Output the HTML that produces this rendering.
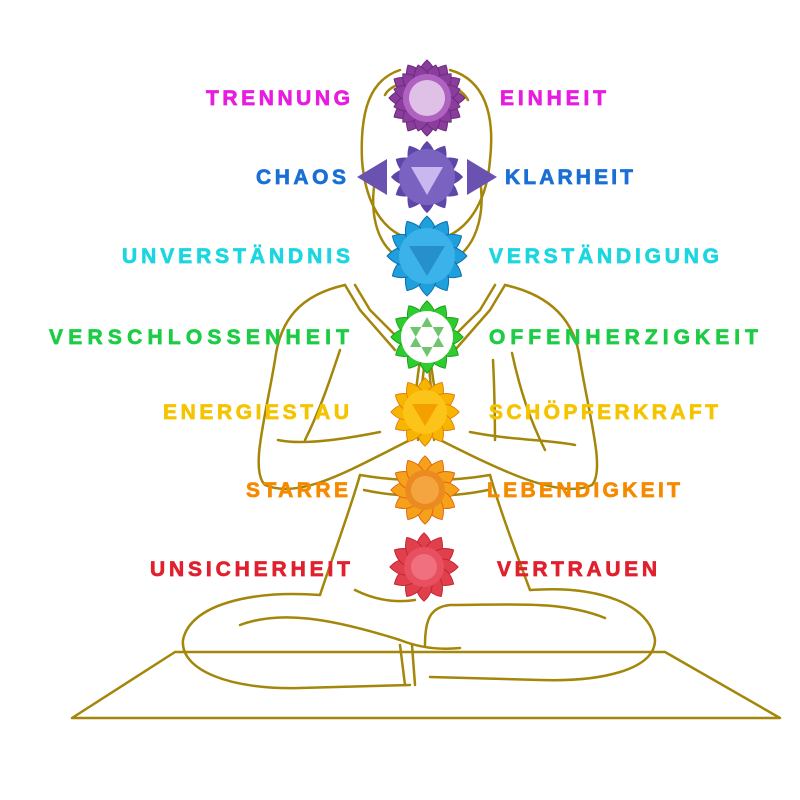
<!DOCTYPE html>
<html><head><meta charset="utf-8"><style>
html,body{margin:0;padding:0;background:#fff;}
svg{display:block}
text{font-family:"Liberation Sans",sans-serif;font-weight:bold;font-size:21px;stroke-width:0.7px}
</style></head><body>
<svg width="800" height="800" viewBox="0 0 800 800">
<defs>
<path id="pt" d="M0,0 C-13,-14 -11,-28 0,-38 C11,-28 13,-14 0,0Z"/>
<g id="fl">
<use href="#pt" transform="rotate(0)"/><use href="#pt" transform="rotate(30)"/><use href="#pt" transform="rotate(60)"/><use href="#pt" transform="rotate(90)"/><use href="#pt" transform="rotate(120)"/><use href="#pt" transform="rotate(150)"/><use href="#pt" transform="rotate(180)"/><use href="#pt" transform="rotate(210)"/><use href="#pt" transform="rotate(240)"/><use href="#pt" transform="rotate(270)"/><use href="#pt" transform="rotate(300)"/><use href="#pt" transform="rotate(330)"/>
</g>
</defs>
<g fill="none" stroke="#a4860a" stroke-width="2.5" stroke-linecap="round" stroke-linejoin="round">
<path d="M72,718 L175,652 L665,652 L780,718 Z"/>
<path d="M400,70 C370,80 360,110 362,160 C365,200 380,225 400,235"/>
<path d="M450,70 C485,80 495,115 490,160 C487,200 470,225 450,235"/>
<path d="M385,95 C395,75 455,75 468,100"/>
<path d="M375,180 C370,210 375,240 395,255"/>
<path d="M480,180 C485,210 478,240 460,255"/>
<path d="M345,285 C300,295 280,320 275,360 C265,420 250,470 265,485 C300,500 350,470 410,440"/>
<path d="M505,285 C550,295 575,320 580,360 C590,420 605,470 592,485 C560,500 500,470 440,440"/>
<path d="M345,285 L360,310 L395,350"/>
<path d="M355,285 L370,310 L405,345"/>
<path d="M505,285 L490,310 L455,350"/>
<path d="M495,285 L480,310 L445,345"/>
<path d="M340,350 C330,380 320,410 305,440 M278,440 C300,445 340,440 380,432"/>
<path d="M512,353 C520,390 530,420 545,450 M575,445 C550,440 510,440 470,432"/>
<path d="M493,360 C495,400 495,430 495,440"/>
<path d="M412,440 C415,400 418,360 425,340 C432,360 436,400 440,440"/>
<path d="M418,440 C420,400 423,370 427,350 C430,370 432,400 434,440"/>
<path d="M360,475 C400,482 450,482 490,475"/>
<path d="M364,490 C400,498 450,498 488,490"/>
<path d="M360,475 C350,510 335,550 320,595"/>
<path d="M490,475 C500,510 515,550 530,590"/>
<path d="M320,595 C250,590 190,605 183,640 C180,670 230,690 300,688 L410,685"/>
<path d="M530,590 C600,585 650,605 655,640 C655,670 600,682 540,680 L430,677"/>
<path d="M240,625 C280,610 330,618 400,640 C420,648 440,650 460,648"/>
<path d="M605,618 C560,600 510,605 450,605 C430,607 425,620 425,645"/>
<path d="M400,645 L405,685 M412,645 L415,685"/>
<path d="M355,590 C375,600 395,603 415,600"/>
</g>
<g transform="translate(427,98)"><g fill="#8a3d9c" stroke="#6a2a7a" stroke-width="1"><use href="#fl"/><use href="#fl" transform="rotate(15) scale(0.9)"/></g><circle r="24" fill="#b062c0"/><circle r="18" fill="#fff" opacity=".6"/></g>
<g transform="translate(427,177)"><path d="M-70,0 L-40,-18 L-40,18Z M70,0 L40,-18 L40,18Z" fill="#6a52b0"/><g fill="#5e46a8"><use href="#fl" transform="scale(0.95)"/></g><circle r="28" fill="#7a63c0"/><path d="M-16,-10 L16,-10 L0,18Z" fill="#c9b8f0"/></g>
<g transform="translate(427,256)"><g fill="#1f9fdc" stroke="#1070b0" stroke-width="1"><use href="#fl" transform="scale(1.05)"/></g><circle r="28" fill="#3bb3ea"/><path d="M-18,-10 L18,-10 L0,20Z" fill="#2690cc"/></g>
<g transform="translate(427,337)"><g fill="#2fcc2f" stroke="#18a018" stroke-width="1"><use href="#fl" transform="scale(0.95)"/></g><circle r="26" fill="#fff"/><path d="M0,-20 L17,10 L-17,10Z M0,20 L17,-10 L-17,-10Z" fill="#55bb55" opacity=".85"/></g>
<g transform="translate(425,412)"><g fill="#f8b500" stroke="#e07a10" stroke-width="1"><use href="#fl" transform="scale(0.9)"/></g><circle r="22" fill="#fcc419"/><path d="M-13,-8 L13,-8 L0,14Z" fill="#f4a000"/></g>
<g transform="translate(425,490)"><g fill="#f5a21a" stroke="#e06010" stroke-width="1"><use href="#fl" transform="scale(0.9)"/></g><circle r="20" fill="#ec8a22"/><circle r="14" fill="#f5a540"/></g>
<g transform="translate(424,567)"><g fill="#e0404c" stroke="#c02030" stroke-width="1"><use href="#fl" transform="scale(0.9)"/></g><circle r="20" fill="#e85060"/><circle r="13" fill="#f07080"/></g>
<g lengthAdjust="spacing">
<text x="206" y="105" textLength="144" fill="#e81ce0" stroke="#e81ce0">TRENNUNG</text>
<text x="256" y="184" textLength="90" fill="#1a6fd6" stroke="#1a6fd6">CHAOS</text>
<text x="122" y="263" textLength="228" fill="#1ad6e0" stroke="#1ad6e0">UNVERSTÄNDNIS</text>
<text x="49" y="344" textLength="300" fill="#1ccc44" stroke="#1ccc44">VERSCHLOSSENHEIT</text>
<text x="163" y="419" textLength="186" fill="#f5c400" stroke="#f5c400">ENERGIESTAU</text>
<text x="246" y="497" textLength="102" fill="#f58a00" stroke="#f58a00">STARRE</text>
<text x="150" y="576" textLength="200" fill="#e0202e" stroke="#e0202e">UNSICHERHEIT</text>
<text x="500" y="105" textLength="106" fill="#e81ce0" stroke="#e81ce0">EINHEIT</text>
<text x="505" y="184" textLength="128" fill="#1a6fd6" stroke="#1a6fd6">KLARHEIT</text>
<text x="489" y="263" textLength="230" fill="#1ad6e0" stroke="#1ad6e0">VERSTÄNDIGUNG</text>
<text x="489" y="344" textLength="269" fill="#1ccc44" stroke="#1ccc44">OFFENHERZIGKEIT</text>
<text x="489" y="419" textLength="229" fill="#f5c400" stroke="#f5c400">SCHÖPFERKRAFT</text>
<text x="487" y="497" textLength="193" fill="#f58a00" stroke="#f58a00">LEBENDIGKEIT</text>
<text x="497" y="576" textLength="160" fill="#e0202e" stroke="#e0202e">VERTRAUEN</text>
</g>
</svg>
</body></html>
